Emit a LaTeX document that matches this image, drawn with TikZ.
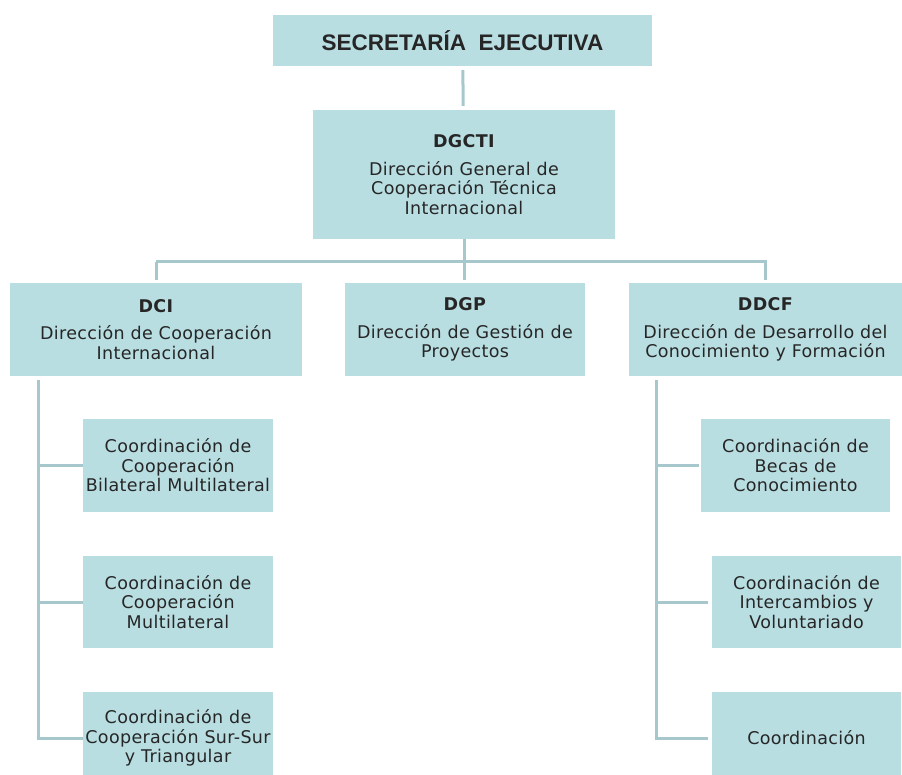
\documentclass[tikz,border=0pt]{standalone}
\usepackage{fontspec}
\setmainfont{DejaVu Sans}[LetterSpace=2]
\newfontfamily\titlefont{Liberation Sans}
\usepackage{xcolor}
\usepackage{tikz}
\usetikzlibrary{positioning,calc}

\definecolor{boxfill}{RGB}{185,222,226}
\definecolor{linecol}{RGB}{166,199,203}

\begin{document}
\begin{tikzpicture}[x=1pt,y=-1pt,
    font=\fontsize{17.5}{19.5}\selectfont,
    box/.style={fill=boxfill,inner sep=0pt,align=center,text=black!85},
    conn/.style={draw=linecol,line width=3pt}]
  \useasboundingbox (0,0) rectangle (902,775);
  % top levels
  \node[box,minimum width=379pt,minimum height=51pt,font=\titlefont\fontsize{22.5}{24}\selectfont\bfseries] (se) at (462.5,40.5)
    {SECRETARÍA\ \ EJECUTIVA};
  \node[box,minimum width=302pt,minimum height=129pt] (dgcti) at (464,174.5)
    {\textbf{DGCTI}\\[8pt]Dirección General de\\Cooperación Técnica\\Internacional};
  % directions
  \node[box,minimum width=292pt,minimum height=93pt] (dci) at (156,329.5)
    {\textbf{DCI}\\[8pt]Dirección de Cooperación\\Internacional};
  \node[box,minimum width=240pt,minimum height=93pt] (dgp) at (465,329.5)
    {\textbf{DGP}\\[8pt]Dirección de Gestión de\\Proyectos};
  \node[box,minimum width=273pt,minimum height=93pt] (ddcf) at (765.5,329.5)
    {\textbf{DDCF}\\[8pt]Dirección de Desarrollo del\\Conocimiento y Formación};
  % coordinations, left
  \node[box,minimum width=190pt,minimum height=93pt] (ccb) at (178,465.5)
    {Coordinación de\\Cooperación\\Bilateral Multilateral};
  \node[box,minimum width=190pt,minimum height=92pt] (ccm) at (178,602)
    {Coordinación de\\Cooperación\\Multilateral};
  \node[box,minimum width=190pt,minimum height=92pt] (ccs) at (178,738)
    {Coordinación de\\Cooperación Sur-Sur\\y Triangular};
  % coordinations, right
  \node[box,minimum width=189pt,minimum height=93pt] (cbc) at (795.5,465.5)
    {Coordinación de\\Becas de\\Conocimiento};
  \node[box,minimum width=189pt,minimum height=92pt] (civ) at (806.5,602)
    {Coordinación de\\Intercambios y\\Voluntariado};
  \node[box,minimum width=189pt,minimum height=92pt] (cor) at (806.5,738)
    {Coordinación};

  \coordinate (bar) at (464,262);
  \coordinate (lspine) at (38,380);
  \coordinate (rspine) at (656,380);

  \draw[conn,shorten <=4pt,shorten >=4pt] (se) -- (dgcti);
  \draw[conn] (dgcti.south) -- (bar);
  \draw[conn,shorten >=3pt] (bar -| dci.north) -- (bar -| ddcf.north) -- (ddcf.north);
  \draw[conn,shorten >=3pt] (bar -| dci.north) -- (dci.north);
  \draw[conn,shorten >=3pt] (bar) -- (bar |- dgp.north);
  \draw[conn] (lspine) |- (ccs.west);
  \draw[conn] (lspine |- ccb.west) -- (ccb.west);
  \draw[conn] (lspine |- ccm.west) -- (ccm.west);
  \draw[conn] (rspine) |- ([xshift=-4pt]cor.west);
  \draw[conn] (rspine |- cbc.west) -- ([xshift=-2pt]cbc.west);
  \draw[conn] (rspine |- civ.west) -- ([xshift=-4pt]civ.west);
\end{tikzpicture}
\end{document}
